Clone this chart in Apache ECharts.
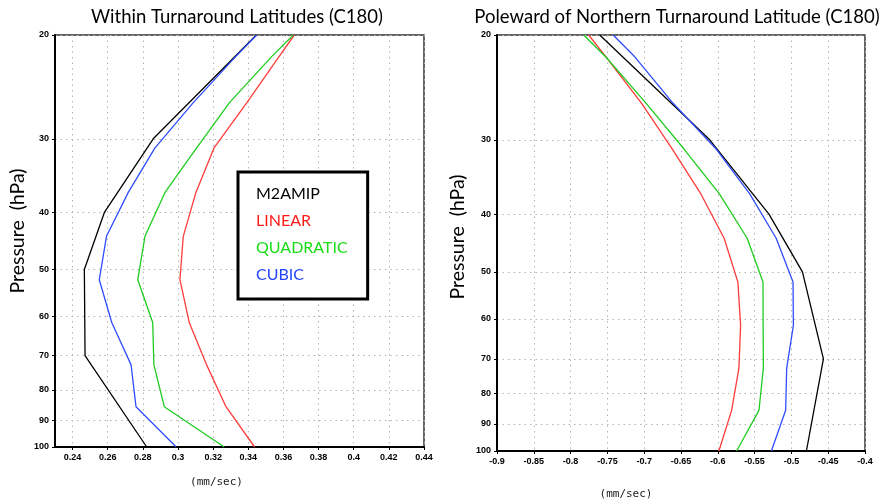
<!DOCTYPE html>
<html>
<head>
<meta charset="utf-8">
<script src="https://cdn.jsdelivr.net/npm/echarts@6/dist/echarts.min.js"></script>
<style>
  html, body { margin: 0; padding: 0; background: #fff; }
  #chart { width: 884px; height: 504px; }
</style>
</head>
<body>
<div id="chart"></div>
<script>
// Pressure levels (hPa): analysis on standard levels, schemes on model mid-levels
const obsLevels = [20, 30, 40, 50, 70, 100];
const modelLevels = [20, 21.76, 26.05, 31.09, 36.99, 43.91, 52.02, 61.5, 72.56, 85.44, 100];
const pressureTicks = [20, 30, 40, 50, 60, 70, 80, 90, 100];

// Within turnaround latitudes (mm/sec)
const m2amipWithin = [0.3446, 0.2859, 0.2581, 0.2467, 0.2471, 0.2822];
const linearWithin = [0.3662, 0.3575, 0.3392, 0.3205, 0.3102, 0.3030, 0.3011, 0.3064, 0.3163, 0.3273, 0.3436];
const quadraticWithin = [0.3656, 0.3533, 0.3293, 0.3106, 0.2926, 0.2812, 0.2771, 0.2856, 0.2863, 0.2922, 0.3263];
const cubicWithin = [0.3448, 0.3328, 0.3087, 0.2869, 0.2717, 0.2593, 0.2552, 0.2623, 0.2733, 0.2761, 0.2990];

// Poleward of northern turnaround latitude (mm/sec)
const m2amipPole = [-0.7604, -0.6110, -0.5305, -0.4850, -0.4565, -0.4796];
const linearPole = [-0.7754, -0.7520, -0.7035, -0.6618, -0.6230, -0.5914, -0.5727, -0.5690, -0.5713, -0.5812, -0.5985];
const quadraticPole = [-0.7822, -0.7524, -0.6973, -0.6459, -0.5978, -0.5601, -0.5386, -0.5384, -0.5381, -0.5441, -0.5744];
const cubicPole = [-0.7422, -0.7128, -0.6607, -0.6022, -0.5566, -0.5207, -0.4978, -0.4973, -0.5064, -0.5078, -0.5272];

const xTicksWithin = [0.24, 0.26, 0.28, 0.3, 0.32, 0.34, 0.36, 0.38, 0.4, 0.42, 0.44];
const xTicksPole = [-0.9, -0.85, -0.8, -0.75, -0.7, -0.65, -0.6, -0.55, -0.5, -0.45, -0.4];

const seriesNames = ['M2AMIP', 'LINEAR', 'QUADRATIC', 'CUBIC'];
const lineColors = ['#000000', '#ff3b3b', '#1fcc1f', '#2f4dff'];
const legendColors = ['#000000', '#ff1a1a', '#17dd17', '#2244ff'];

const chart = echarts.init(document.getElementById('chart'), null, { renderer: 'canvas' });

const tickFont = { fontFamily: 'Liberation Sans, Arial, sans-serif', fontSize: 9, fontWeight: 'bold', color: '#000' };
const titleFont = { fontFamily: 'Lato, sans-serif', fontSize: 18.5, fontWeight: 'normal', color: '#000' };

function pairs(values, levels) {
  return values.map((v, i) => [v, levels[i]]);
}

function xAxisFor(gridIndex, min, max, ticks, namePad) {
  return {
    type: 'value', gridIndex, min, max,
    name: '(mm/sec)', nameLocation: 'middle', nameGap: 0,
    nameTextStyle: { fontFamily: 'DejaVu Sans Mono, monospace', fontSize: 11, color: '#222', padding: namePad },
    axisLine: { show: true, onZero: false, lineStyle: { color: '#000', width: 2 } },
    axisTick: { show: true, customValues: ticks, length: 3, lineStyle: { color: '#000' } },
    axisLabel: { customValues: ticks, margin: 6, ...tickFont },
    splitLine: { show: true, lineStyle: { color: '#b4b4b4', type: [1.5, 4], width: 1 } }
  };
}

function yAxisFor(gridIndex, nameGap, namePad) {
  return {
    type: 'log', gridIndex, min: 20, max: 100, inverse: true,
    name: 'Pressure  (hPa)', nameLocation: 'middle', nameGap,
    nameTextStyle: { fontFamily: 'Lato, sans-serif', fontSize: 19.5, color: '#000', padding: namePad },
    axisLine: { show: true, onZero: false, lineStyle: { color: '#000', width: 2 } },
    axisTick: { show: true, customValues: pressureTicks, length: 3, lineStyle: { color: '#000' } },
    axisLabel: { customValues: pressureTicks, margin: 6, ...tickFont },
    splitLine: { show: true, lineStyle: { color: '#b4b4b4', type: [1.5, 4], width: 1 } },
    minorTick: { show: false }, minorSplitLine: { show: false }
  };
}

function lineSeries(name, idx, axisIndex, values, levels) {
  return {
    name, type: 'line', xAxisIndex: axisIndex, yAxisIndex: axisIndex,
    data: pairs(values, levels),
    showSymbol: false, symbol: 'none', smooth: false, clip: true,
    lineStyle: { color: lineColors[idx], width: 1.3 },
    itemStyle: { color: lineColors[idx] },
    emphasis: { disabled: true }, animation: false
  };
}

const gridBase = { show: true, borderColor: '#333', borderWidth: 1.5, backgroundColor: 'transparent', outerBoundsMode: 'none', containLabel: false };

const option = {
  backgroundColor: '#fff',
  animation: false,
  title: [
    { text: 'Within Turnaround Latitudes (C180)', left: 232, top: 3, textAlign: 'center', textStyle: titleFont },
    { text: 'Poleward of Northern Turnaround Latitude (C180)', left: 672, top: 3, textAlign: 'center', textStyle: titleFont }
  ],
  grid: [
    { ...gridBase, left: 55, top: 35, width: 369, height: 412 },
    { ...gridBase, left: 497, top: 35, width: 368, height: 416 }
  ],
  xAxis: [
    xAxisFor(0, 0.23, 0.44, xTicksWithin, [30, 46, 0, 0]),
    xAxisFor(1, -0.9, -0.4, xTicksPole, [38, 110, 0, 0])
  ],
  yAxis: [yAxisFor(0, 27, [0, 0, 0, 20]), yAxisFor(1, 29, [0, 0, 0, 12])],
  legend: {
    orient: 'vertical', left: 238, top: 172,
    padding: [14, 20, 16, 13],
    borderColor: '#000', borderWidth: 3, backgroundColor: '#fff',
    itemWidth: 0, itemHeight: 16, itemGap: 11,
    icon: 'rect',
    selectedMode: false,
    textStyle: { fontFamily: 'Lato, sans-serif', fontSize: 16 },
    data: seriesNames.map((n, i) => ({ name: n, textStyle: { color: legendColors[i] } }))
  },
  series: [
    lineSeries('M2AMIP', 0, 0, m2amipWithin, obsLevels),
    lineSeries('LINEAR', 1, 0, linearWithin, modelLevels),
    lineSeries('QUADRATIC', 2, 0, quadraticWithin, modelLevels),
    lineSeries('CUBIC', 3, 0, cubicWithin, modelLevels),
    lineSeries('M2AMIP', 0, 1, m2amipPole, obsLevels),
    lineSeries('LINEAR', 1, 1, linearPole, modelLevels),
    lineSeries('QUADRATIC', 2, 1, quadraticPole, modelLevels),
    lineSeries('CUBIC', 3, 1, cubicPole, modelLevels)
  ]
};

chart.setOption(option);
</script>
</body>
</html>
